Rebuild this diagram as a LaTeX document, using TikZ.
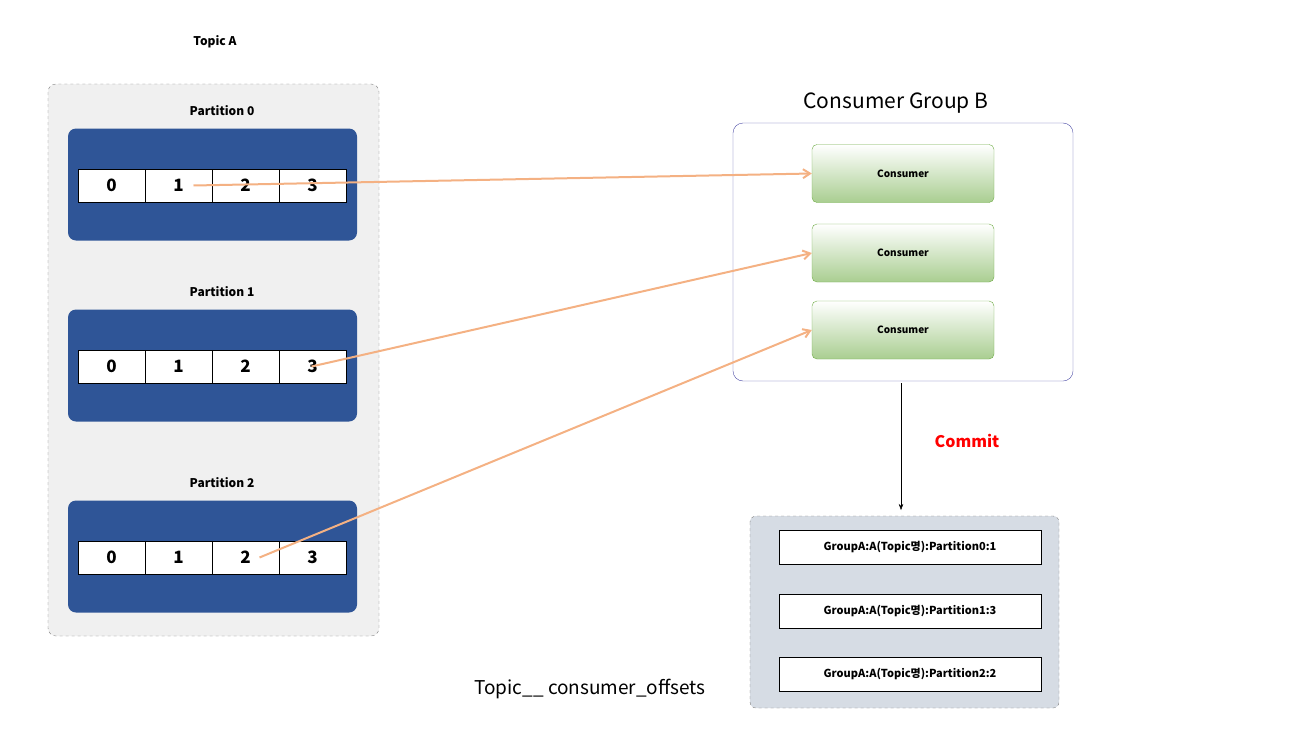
\documentclass[tikz,border=0pt]{standalone}
\usepackage{fontspec}
\setmainfont{Noto Sans CJK KR}
\usetikzlibrary{arrows.meta, positioning, fit, calc}
\definecolor{partblue}{HTML}{2F5597}
\definecolor{arrorange}{HTML}{F4B183}
\definecolor{consgreen}{HTML}{70AD47}
\definecolor{offgray}{HTML}{D6DCE4}
\tikzset{
    partbox/.style={rectangle, rounded corners=8pt, fill=partblue, minimum width=289pt, minimum height=112pt},
    cell/.style={rectangle, draw=black, thick, fill=white, minimum width=67pt, minimum height=33pt, font=\fontsize{17}{17}\selectfont\bfseries, inner sep=0pt},
    consbox/.style={rectangle, rounded corners=5pt, draw=consgreen, top color=green!30!lime!25!white!85!black!0, bottom color=consgreen!60, minimum width=182pt, minimum height=58pt, font=\fontsize{10}{10}\selectfont\bfseries},
    offbox/.style={rectangle, draw=black, thick, fill=white, minimum width=262pt, minimum height=34pt, font=\fontsize{11}{11}\selectfont\bfseries},
    arrow/.style={-{Straight Barb[length=7pt,width=9pt]}, arrorange, line width=2pt},
}
\begin{document}
\begin{tikzpicture}[x=1pt,y=-1pt,
  label/.style={font=\fontsize{12}{12}\selectfont\bfseries}
]
\useasboundingbox (0,0) rectangle (1306,728);

% Topic A
\node[label] (topica) at (215,42) {Topic A};
\draw[dashed, gray, fill=gray!12, rounded corners=8pt] (48,84) rectangle (379,636);

% Partitions with offsets
\foreach \p/\y in {0/111, 1/292, 2/483} {
  \node[label] (plabel\p) at (222,\y) {Partition \p};
  \node[partbox] (part\p) at (212.5,\y+73.5) {};
  \foreach \c in {0,...,3} {
    \node[cell] (p\p c\c) at (111.5+67*\c,\y+74.5) {\c};
  }
}

% Consumer Group B
\node[font=\fontsize{21}{21}\selectfont] (cglabel) at (896,103) {Consumer Group B};
\draw[draw=blue!50!black!70, rounded corners=10pt] (733,123) rectangle (1073,381);
\node[consbox] (cons0) at (903,173.5) {Consumer};
\node[consbox] (cons1) at (903,253) {Consumer};
\node[consbox] (cons2) at (903,330) {Consumer};

% Consumption arrows
\draw[arrow] ([xshift=15pt]p0c1.center) -- (cons0.west);
\draw[arrow] ([xshift=-1pt]p1c3.center) -- (cons1.west);
\draw[arrow] ([xshift=14pt]p2c2.center) -- (cons2.west);

% Offsets topic
\draw[dashed, gray, fill=offgray, rounded corners=6pt] (750,516) rectangle (1059,708);
\coordinate (cgbottom) at (901,383);
\node[offbox] (off0) at (910,547) {GroupA:A(Topic명):Partition0:1};
\node[offbox] (off1) at (910,611) {GroupA:A(Topic명):Partition1:3};
\node[offbox] (off2) at (910,674) {GroupA:A(Topic명):Partition2:2};
\coordinate (offtop) at (901,510);
\draw[-{Stealth[length=6pt]}, black] (cgbottom) -- (offtop);
\node[text=red, font=\fontsize{16}{16}\selectfont\bfseries] (commit) at (967,441) {Commit};
\node[font=\fontsize{19}{19}\selectfont] (offname) at (590,689) {Topic\_\_ consumer\_offsets};
\end{tikzpicture}
\end{document}
